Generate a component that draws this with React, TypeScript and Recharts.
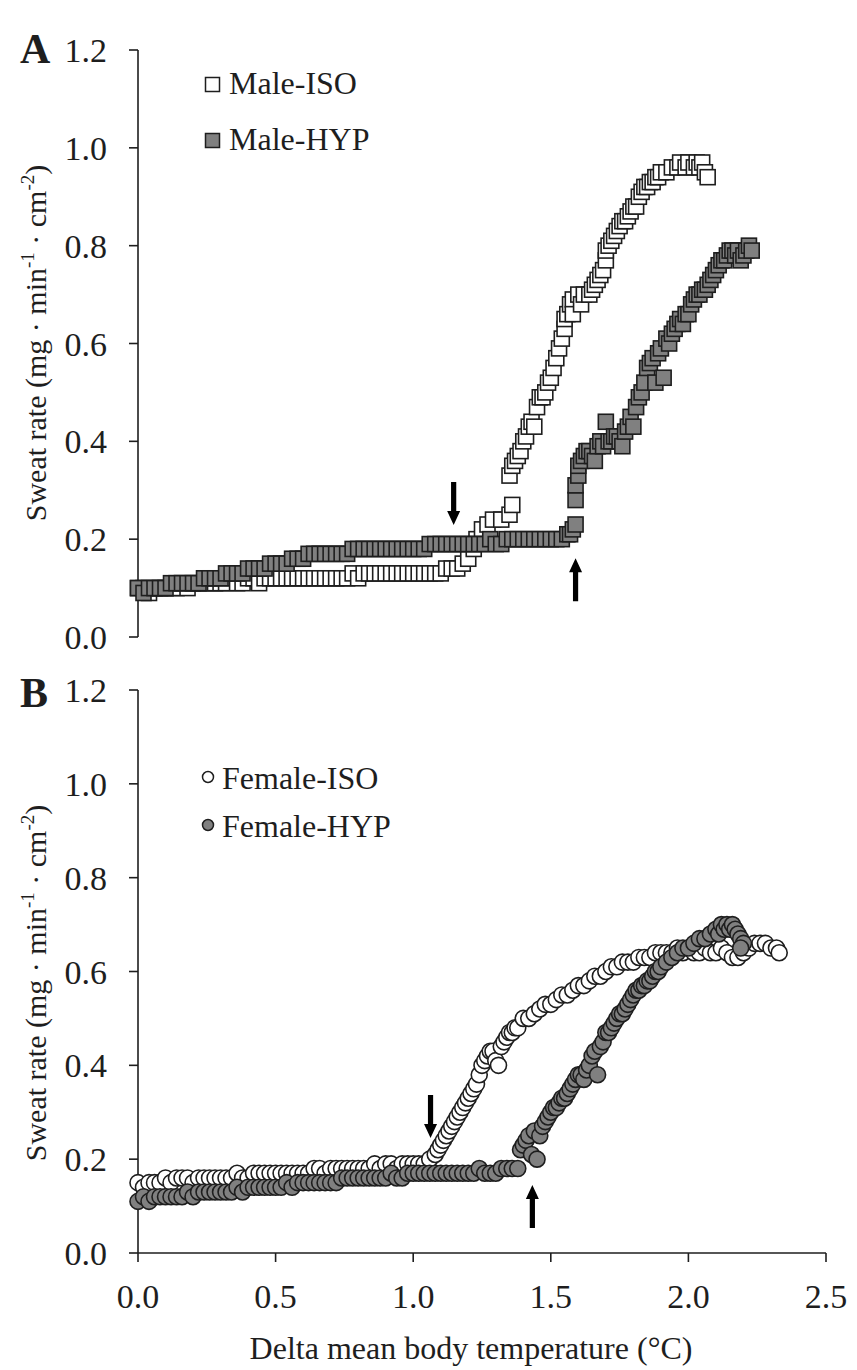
import React from 'react';
import { ScatterChart, Scatter, XAxis, YAxis, ReferenceDot } from 'recharts';

const FONT = "'Liberation Serif', 'Times New Roman', Times, serif";
const INK = '#1e1e1e';
const GRAY = '#808080';

const yTicks = [0, 0.2, 0.4, 0.6, 0.8, 1.0, 1.2];
const xTicks = [0, 0.5, 1.0, 1.5, 2.0, 2.5];

const maleIso: [number, number][] = [
  [0.00,0.10],[0.02,0.10],[0.04,0.09],[0.06,0.10],[0.08,0.10],[0.10,0.10],[0.12,0.10],[0.14,0.10],[0.16,0.11],[0.18,0.10],
  [0.20,0.11],[0.22,0.11],[0.24,0.11],[0.26,0.11],[0.28,0.11],[0.30,0.11],[0.32,0.11],[0.34,0.12],[0.36,0.11],[0.38,0.11],
  [0.40,0.12],[0.42,0.12],[0.44,0.11],[0.46,0.12],[0.48,0.12],[0.50,0.12],[0.52,0.12],[0.54,0.12],[0.56,0.12],[0.58,0.12],
  [0.60,0.12],[0.62,0.12],[0.64,0.12],[0.66,0.12],[0.68,0.12],[0.70,0.12],[0.72,0.12],[0.74,0.12],[0.76,0.12],[0.78,0.13],
  [0.80,0.12],[0.82,0.13],[0.84,0.13],[0.86,0.13],[0.88,0.13],[0.90,0.13],[0.92,0.13],[0.94,0.13],[0.96,0.13],[0.98,0.13],
  [1.00,0.13],[1.02,0.13],[1.04,0.13],[1.06,0.13],[1.08,0.13],[1.10,0.13],[1.12,0.14],[1.14,0.14],[1.16,0.14],
  [1.18,0.15],[1.20,0.16],[1.22,0.18],[1.23,0.20],[1.25,0.22],[1.27,0.23],[1.29,0.24],[1.32,0.24],[1.35,0.25],[1.36,0.27],
  [1.35,0.33],[1.36,0.35],[1.37,0.36],[1.38,0.37],[1.39,0.38],[1.40,0.40],[1.41,0.41],[1.42,0.43],[1.43,0.44],[1.44,0.43],
  [1.45,0.47],[1.46,0.49],[1.47,0.49],[1.48,0.50],[1.49,0.52],[1.50,0.53],[1.51,0.55],[1.52,0.57],[1.53,0.59],[1.54,0.61],
  [1.55,0.63],[1.55,0.65],[1.56,0.66],[1.57,0.68],[1.58,0.69],[1.58,0.66],[1.60,0.70],[1.61,0.68],[1.62,0.70],[1.64,0.70],
  [1.65,0.71],[1.66,0.72],[1.67,0.73],[1.68,0.74],[1.69,0.75],[1.70,0.77],[1.70,0.79],[1.71,0.80],[1.72,0.81],[1.73,0.82],
  [1.74,0.83],[1.75,0.84],[1.76,0.85],[1.77,0.85],[1.78,0.86],[1.79,0.87],[1.80,0.88],[1.81,0.88],[1.82,0.90],[1.83,0.91],
  [1.84,0.92],[1.85,0.92],[1.86,0.93],[1.87,0.93],[1.88,0.94],[1.89,0.94],[1.90,0.95],[1.92,0.95],[1.94,0.96],[1.96,0.96],
  [1.97,0.97],[1.99,0.96],[2.00,0.97],[2.02,0.96],[2.03,0.97],[2.04,0.96],[2.05,0.97],[2.06,0.95],[2.07,0.94],
];

const maleHyp: [number, number][] = [
  [0.00,0.10],[0.02,0.09],[0.04,0.10],[0.06,0.10],[0.08,0.10],[0.10,0.10],[0.12,0.11],[0.14,0.11],[0.16,0.11],[0.18,0.11],
  [0.20,0.11],[0.22,0.11],[0.24,0.12],[0.26,0.12],[0.28,0.12],[0.30,0.12],[0.32,0.13],[0.34,0.13],[0.36,0.13],[0.38,0.13],
  [0.40,0.14],[0.42,0.14],[0.44,0.14],[0.46,0.14],[0.48,0.15],[0.50,0.15],[0.52,0.15],[0.54,0.15],[0.56,0.16],[0.58,0.16],
  [0.60,0.16],[0.62,0.17],[0.64,0.17],[0.66,0.17],[0.68,0.17],[0.70,0.17],[0.72,0.17],[0.74,0.17],[0.76,0.17],[0.78,0.18],
  [0.80,0.18],[0.82,0.18],[0.84,0.18],[0.86,0.18],[0.88,0.18],[0.90,0.18],[0.92,0.18],[0.94,0.18],[0.96,0.18],[0.98,0.18],
  [1.00,0.18],[1.02,0.18],[1.04,0.18],[1.06,0.19],[1.08,0.19],[1.10,0.19],[1.12,0.19],[1.14,0.19],[1.16,0.19],[1.18,0.19],
  [1.20,0.19],[1.22,0.19],[1.24,0.19],[1.26,0.19],[1.28,0.20],[1.30,0.19],[1.32,0.19],[1.34,0.20],[1.36,0.20],[1.38,0.20],
  [1.40,0.20],[1.42,0.20],[1.44,0.20],[1.46,0.20],[1.48,0.20],[1.50,0.20],[1.52,0.20],[1.54,0.20],[1.56,0.21],[1.57,0.21],
  [1.58,0.22],[1.59,0.23],
  [1.59,0.28],[1.59,0.31],[1.60,0.33],[1.60,0.35],[1.61,0.36],[1.62,0.37],[1.63,0.38],[1.64,0.38],[1.65,0.37],[1.66,0.36],
  [1.67,0.39],[1.68,0.40],[1.69,0.39],[1.70,0.44],[1.71,0.40],[1.72,0.40],[1.73,0.41],[1.74,0.41],[1.75,0.40],[1.76,0.39],
  [1.77,0.42],[1.78,0.43],[1.79,0.45],[1.80,0.43],[1.81,0.47],[1.82,0.49],[1.83,0.50],[1.84,0.52],[1.85,0.55],[1.86,0.56],
  [1.87,0.57],[1.88,0.52],[1.89,0.58],[1.90,0.59],[1.91,0.53],[1.92,0.61],[1.93,0.60],[1.94,0.62],[1.95,0.63],[1.96,0.64],
  [1.97,0.65],[1.98,0.64],[1.99,0.66],[2.00,0.66],[2.01,0.68],[2.02,0.69],[2.03,0.70],[2.04,0.70],[2.05,0.71],[2.06,0.71],
  [2.07,0.72],[2.08,0.73],[2.09,0.74],[2.10,0.75],[2.11,0.76],[2.12,0.77],[2.13,0.77],[2.14,0.78],[2.15,0.79],[2.16,0.79],
  [2.17,0.78],[2.18,0.79],[2.19,0.77],[2.20,0.78],[2.21,0.79],[2.22,0.80],[2.23,0.79],
];

const femaleIso: [number, number][] = [
  [0.00,0.15],[0.02,0.14],[0.04,0.15],[0.06,0.15],[0.08,0.15],[0.10,0.16],[0.12,0.15],[0.14,0.16],[0.16,0.16],[0.18,0.16],
  [0.20,0.15],[0.22,0.16],[0.24,0.16],[0.26,0.16],[0.28,0.16],[0.30,0.16],[0.32,0.16],[0.34,0.16],[0.36,0.17],[0.38,0.16],
  [0.40,0.16],[0.42,0.17],[0.44,0.17],[0.46,0.17],[0.48,0.17],[0.50,0.17],[0.52,0.17],[0.54,0.17],[0.56,0.17],[0.58,0.17],
  [0.60,0.17],[0.62,0.17],[0.64,0.18],[0.66,0.18],[0.68,0.17],[0.70,0.18],[0.72,0.18],[0.74,0.18],[0.76,0.18],[0.78,0.18],
  [0.80,0.18],[0.82,0.18],[0.84,0.18],[0.86,0.19],[0.88,0.18],[0.90,0.19],[0.92,0.19],[0.94,0.18],[0.96,0.19],[0.98,0.19],
  [1.00,0.19],[1.02,0.19],[1.04,0.19],[1.06,0.20],
  [1.08,0.21],[1.09,0.22],[1.10,0.23],[1.11,0.24],[1.12,0.25],[1.13,0.26],[1.14,0.27],[1.15,0.28],[1.16,0.29],[1.17,0.30],
  [1.18,0.31],[1.19,0.32],[1.20,0.33],[1.21,0.34],[1.22,0.35],[1.23,0.36],[1.24,0.38],[1.25,0.40],[1.26,0.41],[1.27,0.42],
  [1.28,0.43],[1.29,0.43],[1.30,0.41],[1.31,0.40],[1.32,0.44],[1.33,0.45],[1.34,0.46],[1.35,0.47],[1.36,0.47],[1.37,0.48],
  [1.38,0.48],[1.40,0.50],[1.42,0.50],[1.44,0.51],[1.46,0.52],[1.48,0.53],[1.50,0.53],[1.52,0.54],[1.54,0.55],[1.56,0.55],
  [1.58,0.56],[1.60,0.57],[1.62,0.57],[1.64,0.58],[1.66,0.59],[1.68,0.59],[1.70,0.60],[1.72,0.61],[1.74,0.61],[1.76,0.62],
  [1.78,0.62],[1.80,0.62],[1.82,0.63],[1.84,0.63],[1.86,0.63],[1.88,0.64],[1.90,0.64],[1.92,0.64],[1.94,0.64],[1.96,0.65],
  [1.98,0.64],[2.00,0.65],[2.02,0.64],[2.04,0.64],[2.06,0.65],[2.08,0.64],[2.10,0.64],[2.12,0.65],[2.14,0.64],[2.16,0.63],
  [2.18,0.63],[2.20,0.64],[2.22,0.65],[2.24,0.66],[2.26,0.66],[2.28,0.66],[2.30,0.65],[2.32,0.65],[2.33,0.64],
];

const femaleHyp: [number, number][] = [
  [0.00,0.11],[0.02,0.12],[0.04,0.11],[0.06,0.12],[0.08,0.12],[0.10,0.12],[0.12,0.12],[0.14,0.12],[0.16,0.12],[0.18,0.13],
  [0.20,0.12],[0.22,0.13],[0.24,0.13],[0.26,0.13],[0.28,0.13],[0.30,0.13],[0.32,0.13],[0.34,0.13],[0.36,0.14],[0.38,0.13],
  [0.40,0.14],[0.42,0.14],[0.44,0.14],[0.46,0.14],[0.48,0.14],[0.50,0.14],[0.52,0.14],[0.54,0.15],[0.56,0.14],[0.58,0.15],
  [0.60,0.15],[0.62,0.15],[0.64,0.15],[0.66,0.15],[0.68,0.15],[0.70,0.15],[0.72,0.15],[0.74,0.16],[0.76,0.16],[0.78,0.16],
  [0.80,0.16],[0.82,0.16],[0.84,0.16],[0.86,0.16],[0.88,0.16],[0.90,0.16],[0.92,0.17],[0.94,0.16],[0.96,0.16],[0.98,0.17],
  [1.00,0.17],[1.02,0.17],[1.04,0.17],[1.06,0.17],[1.08,0.17],[1.10,0.17],[1.12,0.17],[1.14,0.17],[1.16,0.17],[1.18,0.17],
  [1.20,0.17],[1.22,0.17],[1.24,0.18],[1.26,0.17],[1.28,0.17],[1.30,0.17],[1.32,0.18],[1.34,0.18],[1.36,0.18],[1.38,0.18],
  [1.39,0.22],[1.40,0.23],[1.41,0.24],[1.42,0.25],[1.43,0.21],[1.45,0.20],[1.44,0.26],[1.46,0.25],[1.47,0.27],[1.48,0.28],
  [1.49,0.29],[1.50,0.30],[1.51,0.31],[1.52,0.31],[1.53,0.32],[1.54,0.33],[1.55,0.33],[1.56,0.34],[1.57,0.35],[1.58,0.36],
  [1.59,0.37],[1.60,0.38],[1.61,0.38],[1.62,0.37],[1.63,0.39],[1.64,0.40],[1.65,0.42],[1.66,0.43],[1.67,0.38],[1.68,0.44],
  [1.69,0.45],[1.70,0.47],[1.71,0.47],[1.72,0.48],[1.73,0.49],[1.74,0.50],[1.75,0.51],[1.76,0.51],[1.77,0.52],[1.78,0.53],
  [1.79,0.54],[1.80,0.55],[1.81,0.56],[1.82,0.56],[1.83,0.57],[1.84,0.57],[1.85,0.58],[1.86,0.58],[1.87,0.59],[1.88,0.60],
  [1.89,0.60],[1.90,0.61],[1.92,0.62],[1.94,0.63],[1.96,0.64],[1.98,0.65],[2.00,0.65],[2.02,0.66],[2.04,0.67],[2.06,0.67],
  [2.08,0.68],[2.10,0.69],[2.11,0.68],[2.12,0.70],[2.13,0.69],[2.14,0.70],[2.15,0.69],[2.16,0.70],[2.17,0.69],[2.18,0.68],
  [2.19,0.67],[2.20,0.66],[2.19,0.65],
];

const arrowsA = [
  { x: 1.147, y: 0.229, dir: 'down' },
  { x: 1.59, y: 0.161, dir: 'up' },
];
const arrowsB = [
  { x: 1.063, y: 0.245, dir: 'down' },
  { x: 1.433, y: 0.145, dir: 'up' },
];

const toRows = (pts: [number, number][]) => pts.map(([x, y]) => ({ x, y }));

const SquareShape = (fill: string) => (props: any) => {
  const { cx, cy } = props;
  if (cx == null || cy == null) return <g />;
  return <rect x={cx - 7.5} y={cy - 7.5} width={15} height={15} fill={fill} stroke={INK} strokeWidth={1.6} />;
};
const CircleShape = (fill: string) => (props: any) => {
  const { cx, cy } = props;
  if (cx == null || cy == null) return <g />;
  return <circle cx={cx} cy={cy} r={8} fill={fill} stroke={INK} strokeWidth={1.6} />;
};

const ArrowShape = (dir: string) => (props: any) => {
  const { cx, cy } = props;
  if (cx == null || cy == null) return <g />;
  const s = dir === 'down' ? -1 : 1;
  const L = 43, H = 14, hw = 6.5, sw = 2.6;
  const d = `M ${cx - sw} ${cy + s * L} L ${cx + sw} ${cy + s * L} L ${cx + sw} ${cy + s * H} L ${cx + hw} ${cy + s * H} L ${cx} ${cy} L ${cx - hw} ${cy + s * H} L ${cx - sw} ${cy + s * H} Z`;
  return <path d={d} fill="#000" />;
};

const tickStyle = { fontFamily: FONT, fontSize: 34, fill: INK };

const YLabelBlock = ({ cy, letter, letterY, legend }: any) => (
  <g>
    <text x={20} y={letterY} fontFamily={FONT} fontSize={42} fontWeight="bold" fill={INK}>{letter}</text>
    <text
      transform={`translate(46, ${cy}) rotate(-90)`}
      textAnchor="middle"
      fontFamily={FONT}
      fontSize={30}
      fill={INK}
    >
      Sweat rate (mg · min<tspan dy={-12} fontSize={19}>-1</tspan><tspan dy={12}> · cm</tspan><tspan dy={-12} fontSize={19}>-2</tspan><tspan dy={12}>)</tspan>
    </text>
    {legend}
  </g>
);

const legendA = (
  <g>
    <rect x={205.5} y={77.5} width={14} height={14} fill="#fff" stroke={INK} strokeWidth={1.5} />
    <text x={229} y={94} fontFamily={FONT} fontSize={32} fill={INK}>Male-ISO</text>
    <rect x={205.5} y={133.5} width={14} height={14} fill={GRAY} stroke={INK} strokeWidth={1.5} />
    <text x={229} y={150} fontFamily={FONT} fontSize={32} fill={INK}>Male-HYP</text>
  </g>
);

const legendB = (
  <g>
    <circle cx={208} cy={127} r={5.5} fill="#fff" stroke={INK} strokeWidth={1.5} />
    <text x={222} y={139} fontFamily={FONT} fontSize={32} fill={INK}>Female-ISO</text>
    <circle cx={208} cy={175} r={5.5} fill={GRAY} stroke={INK} strokeWidth={1.5} />
    <text x={222} y={187} fontFamily={FONT} fontSize={32} fill={INK}>Female-HYP</text>
  </g>
);

export default function App() {
  const rowsMaleIso = toRows(maleIso);
  const rowsMaleHyp = toRows(maleHyp);
  const rowsFemIso = toRows(femaleIso);
  const rowsFemHyp = toRows(femaleHyp);
  const fmt = (v: number) => v.toFixed(1);

  return (
    <div style={{ position: 'absolute', left: 0, top: 0, width: 857, height: 1370, background: '#fff' }}>
      <div style={{ position: 'absolute', left: 0, top: 0 }}>
        <ScatterChart width={857} height={668} margin={{ top: 50, right: 31, bottom: 31, left: 0 }}>
          <XAxis type="number" dataKey="x" domain={[0, 2.5]} ticks={xTicks} hide />
          <YAxis
            type="number"
            dataKey="y"
            domain={[0, 1.2]}
            ticks={yTicks}
            interval={0}
            tickFormatter={fmt}
            width={138}
            tick={tickStyle}
            tickSize={9}
            tickMargin={22}
            axisLine={{ stroke: INK, strokeWidth: 1.6 }}
            tickLine={{ stroke: INK, strokeWidth: 1.6 }}
            label={(p: any) => <YLabelBlock cy={343} letter="A" letterY={63} legend={legendA} />}
          />
          <Scatter data={rowsMaleIso} shape={SquareShape('#ffffff')} isAnimationActive={false} />
          <Scatter data={rowsMaleHyp} shape={SquareShape(GRAY)} isAnimationActive={false} />
          {arrowsA.map((a, i) => (
            <ReferenceDot key={i} x={a.x} y={a.y} shape={ArrowShape(a.dir)} />
          ))}
        </ScatterChart>
      </div>
      <div style={{ position: 'absolute', left: 0, top: 650 }}>
        <ScatterChart width={857} height={720} margin={{ top: 40, right: 31, bottom: 7, left: 0 }}>
          <XAxis
            type="number"
            dataKey="x"
            domain={[0, 2.5]}
            ticks={xTicks}
            interval={0}
            tickFormatter={fmt}
            height={110}
            tick={tickStyle}
            tickSize={9}
            tickMargin={22}
            axisLine={{ stroke: INK, strokeWidth: 1.6 }}
            tickLine={{ stroke: INK, strokeWidth: 1.6 }}
            label={(p: any) => (
              <text x={471} y={709} textAnchor="middle" fontFamily={FONT} fontSize={32} fill={INK}>
                Delta mean body temperature (°C)
              </text>
            )}
          />
          <YAxis
            type="number"
            dataKey="y"
            domain={[0, 1.2]}
            ticks={yTicks}
            interval={0}
            tickFormatter={fmt}
            width={138}
            tick={tickStyle}
            tickSize={9}
            tickMargin={22}
            axisLine={{ stroke: INK, strokeWidth: 1.6 }}
            tickLine={{ stroke: INK, strokeWidth: 1.6 }}
            label={(p: any) => <YLabelBlock cy={333} letter="B" letterY={57} legend={legendB} />}
          />
          <Scatter data={rowsFemIso} shape={CircleShape('#ffffff')} isAnimationActive={false} />
          <Scatter data={rowsFemHyp} shape={CircleShape(GRAY)} isAnimationActive={false} />
          {arrowsB.map((a, i) => (
            <ReferenceDot key={i} x={a.x} y={a.y} shape={ArrowShape(a.dir)} />
          ))}
        </ScatterChart>
      </div>
    </div>
  );
}
